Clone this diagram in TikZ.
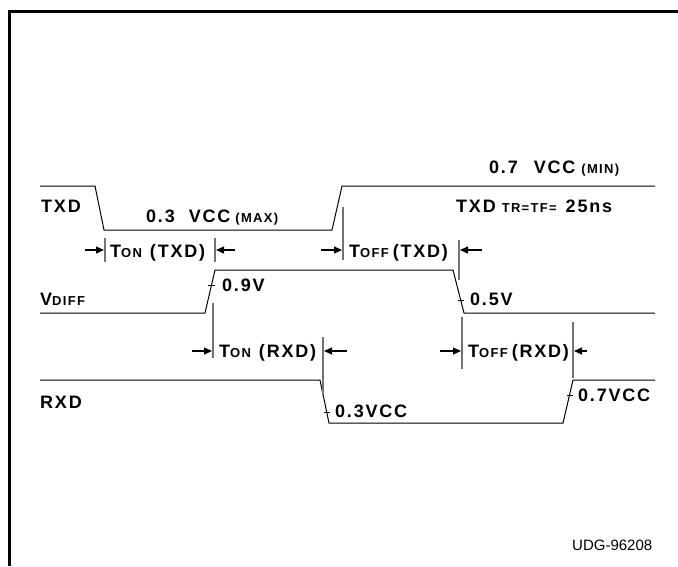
\documentclass[tikz,border=0pt]{standalone}
\usepackage{fontspec}
\setmainfont{Liberation Sans}
\newfontfamily\labfont[LetterSpace=10]{Liberation Sans}
\usetikzlibrary{arrows.meta}
\newcommand{\bigf}{\labfont\fontsize{18}{18}\selectfont\bfseries}
\newcommand{\smf}{\fontsize{13}{13}\selectfont}
\tikzset{
  wave/.style={line width=1pt,black,line join=miter},
  marker/.style={line width=1.3pt,black!55},
  tickmark/.style={line width=0.8pt,black},
  dimarrow/.style={line width=1.1pt,-{Triangle[length=8pt,width=7pt]}},
  lab/.style={anchor=base west,inner sep=0pt,font=\bigf},
}
\begin{document}
\begin{tikzpicture}[x=1pt,y=-1pt]
\useasboundingbox (0,0) rectangle (678,566);
% frame
\draw[line width=3pt] (9.5,566) -- (9.5,11.5) -- (678,11.5);

% waveforms
\draw[wave] (40,186) -- (95,186) -- (104,230) -- (332,230) -- (342,186) -- (655,186);
\draw[wave] (40,313) -- (205,313) -- (215,270) -- (453,270) -- (464,313) -- (655,313);
\draw[wave] (40,380) -- (320,380) -- (329,423) -- (563,423) -- (573,380) -- (655,380);

% ticks
\draw[tickmark] (208,285) -- (214.5,285);
\draw[tickmark] (457.5,300) -- (464,300);
\draw[tickmark] (323.5,412) -- (330,412);
\draw[tickmark] (566.5,395) -- (573,395);

% markers
\draw[marker] (105,238) -- (105,262);
\draw[marker] (215,238) -- (215,262);
\draw[marker] (343,207) -- (343,260);
\draw[marker] (459,240) -- (459,280);
\draw[marker] (213,303) -- (213,358);
\draw[marker] (323,337) -- (323,395);
\draw[marker] (462,317) -- (462,369);
\draw[marker] (573,322) -- (573,378);

% arrow coordinates
\coordinate (a1s) at (85,250);  \coordinate (a1e) at (104,250);
\coordinate (a2s) at (235,250); \coordinate (a2e) at (216,250);
\coordinate (a3s) at (321,250); \coordinate (a3e) at (342,250);
\coordinate (a4s) at (482,250); \coordinate (a4e) at (460,250);
\coordinate (a5s) at (192,351); \coordinate (a5e) at (212,351);
\coordinate (a6s) at (347,351); \coordinate (a6e) at (324,351);
\coordinate (a7s) at (440,351); \coordinate (a7e) at (461,351);
\coordinate (a8s) at (587,351); \coordinate (a8e) at (574,351);
\draw[dimarrow] (a1s) -- (a1e);
\draw[dimarrow] (a2s) -- (a2e);
\draw[dimarrow] (a3s) -- (a3e);
\draw[dimarrow] (a4s) -- (a4e);
\draw[dimarrow] (a5s) -- (a5e);
\draw[dimarrow] (a6s) -- (a6e);
\draw[dimarrow] (a7s) -- (a7e);
\draw[dimarrow] (a8s) -- (a8e);

% labels
\node[lab] (ltxd) at (41,212) {TXD};
\node[lab] (lvil) at (146,222) {0.3\hspace{14pt}VCC\hspace{5pt}{\smf(MAX)}};
\node[lab] (lvih) at (489,173) {0.7\hspace{16pt}VCC\hspace{6pt}{\smf(MIN)}};
\node[lab] (ltr) at (456,212) {TXD\hspace{6pt}{\smf TR=TF=}\hspace{9pt}25ns};
\node[lab] (lton1) at (110,257) {T{\smf ON}\hspace{8pt}(TXD)};
\node[lab] (ltoff1) at (349,257) {T{\smf OFF}\hspace{4pt}(TXD)};
\node[lab] (l09) at (222,291) {0.9V};
\node[lab] (lvd) at (40,305) {V{\smf DIFF}};
\node[lab] (l05) at (470,305) {0.5V};
\node[lab] (lton2) at (219,357) {T{\smf ON}\hspace{8pt}(RXD)};
\node[lab] (ltoff2) at (468,357) {T{\smf OFF}\hspace{4pt}(RXD)};
\node[lab] (lrxd) at (40,408) {RXD};
\node[lab] (l03) at (335,417) {0.3VCC};
\node[lab] (l07) at (578,401) {0.7VCC};
\node[anchor=base west,inner sep=0pt,font=\fontsize{15}{15}\selectfont] (udg) at (572,550) {UDG-96208};
\end{tikzpicture}
\end{document}
